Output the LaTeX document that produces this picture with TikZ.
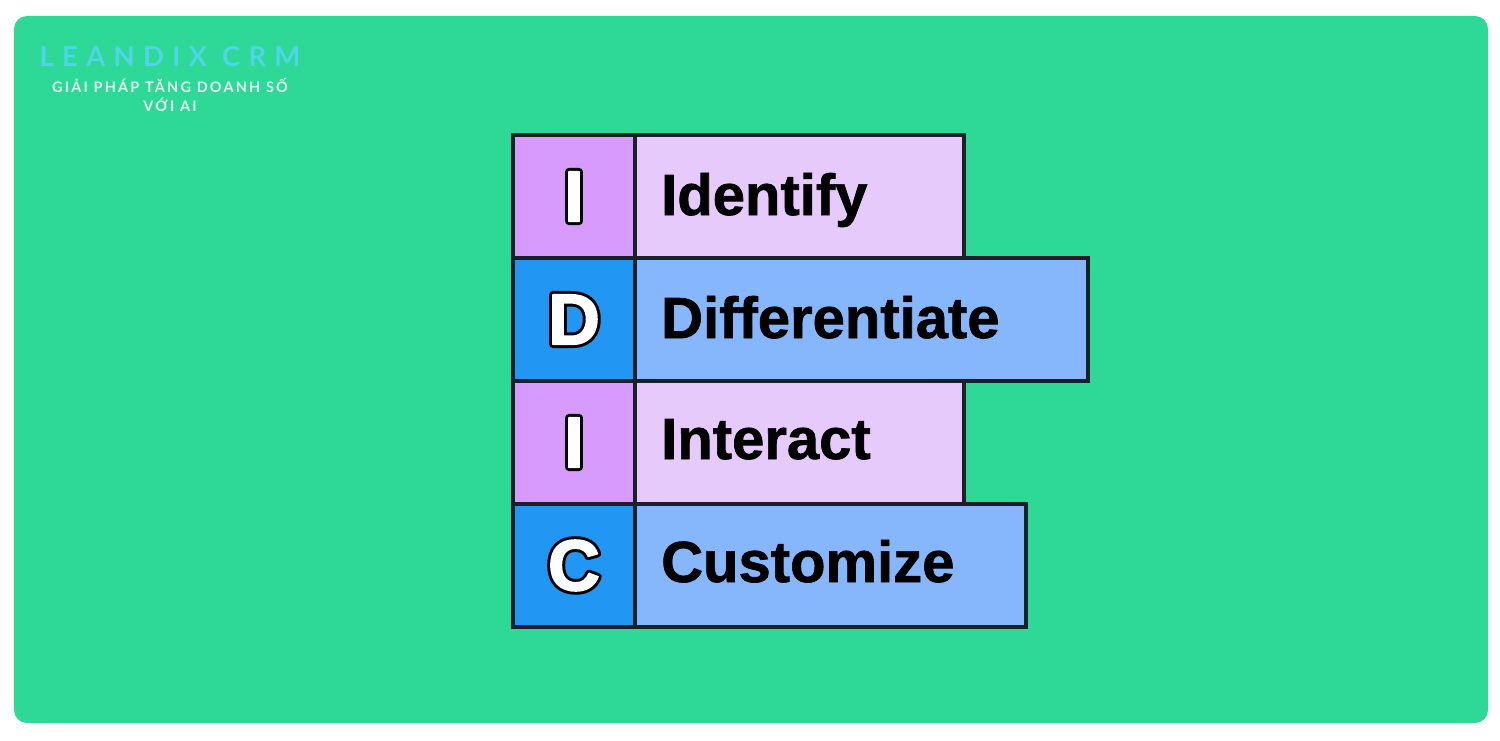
\documentclass[tikz,border=0pt]{standalone}
\usepackage{fontspec}
\setmainfont{Liberation Sans}
\newfontfamily\wordfont[FakeBold=1.2]{Liberation Sans}
\newfontfamily\letterfont{Liberation Sans}
\newfontfamily\logofont[LetterSpace=30]{Lato}
\newfontfamily\subfont[LetterSpace=15]{Lato}
\definecolor{bggreen}{HTML}{2ED897}
\definecolor{ink}{HTML}{1B2027}
\definecolor{purpD}{HTML}{D69BFD}
\definecolor{purpL}{HTML}{E6CAFB}
\definecolor{blueD}{HTML}{2196F3}
\definecolor{blueL}{HTML}{86B6FB}
\definecolor{logocyan}{HTML}{4ED5E6}
\definecolor{subwhite}{HTML}{E4F9F2}
\newcommand{\outlined}[1]{%
  \rlap{\special{pdf:literal direct 2 Tr 7.5 w 1 j 0 0 0 RG 0 0 0 rg}#1\special{pdf:literal direct 0 Tr 1 w 0 j}}%
  \special{pdf:literal direct 2 Tr 1.6 w 1 j 1 1 1 RG 1 1 1 rg}#1\special{pdf:literal direct 0 Tr 1 w 0 j}}
\begin{document}
\begin{tikzpicture}[x=1pt,y=-1pt,
  cell/.style={draw=ink,line width=4pt,rectangle,inner sep=0pt,minimum height=123pt,anchor=north west,miter limit=10},
  letterbox/.style={cell,minimum width=122pt},
  word/.style={anchor=base west,font=\wordfont\fontsize{58}{60}\selectfont\bfseries,text=black,inner sep=0pt},
  letter/.style={anchor=center,font=\letterfont\fontsize{72}{74}\selectfont\bfseries,inner sep=0pt}]
\useasboundingbox (0,0) rectangle (1500,741);
\fill[white] (0,0) rectangle (1500,741);
\fill[bggreen,rounded corners=13pt] (14,16) rectangle (1488,723);
% logo
\node[font=\logofont\fontsize{27.5}{28}\selectfont\bfseries,text=logocyan,inner sep=0pt] (logo) at (170,57) {LEANDIX CRM};
\node[font=\subfont\fontsize{14.5}{18.5}\selectfont\bfseries,text=subwhite,align=center,inner sep=0pt] (sub) at (170,95) {GIẢI PHÁP TĂNG DOANH SỐ\\VỚI AI};
% rows
\node[cell,fill=purpL,minimum width=329pt] (t1) at (633,133) {};
\node[letterbox,fill=purpD] (l1) at (511,133) {};
\node[cell,fill=blueL,minimum width=453pt] (t2) at (633,256) {};
\node[letterbox,fill=blueD] (l2) at (511,256) {};
\node[cell,fill=purpL,minimum width=329pt] (t3) at (633,379) {};
\node[letterbox,fill=purpD] (l3) at (511,379) {};
\node[cell,fill=blueL,minimum width=391pt] (t4) at (633,502) {};
\node[letterbox,fill=blueD] (l4) at (511,502) {};
% letters
\node[letter] (a1) at (l1.center) {\outlined{I}};
\node[letter] (a2) at (l2.center) {\outlined{D}};
\node[letter] (a3) at (l3.center) {\outlined{I}};
\node[letter] (a4) at (l4.center) {\outlined{C}};
% words
\node[word] (w1) at (661,215) {Identify};
\node[word] (w2) at (661,338) {Differentiate};
\node[word] (w3) at (661,459) {Interact};
\node[word] (w4) at (661,582) {Customize};
\end{tikzpicture}
\end{document}
